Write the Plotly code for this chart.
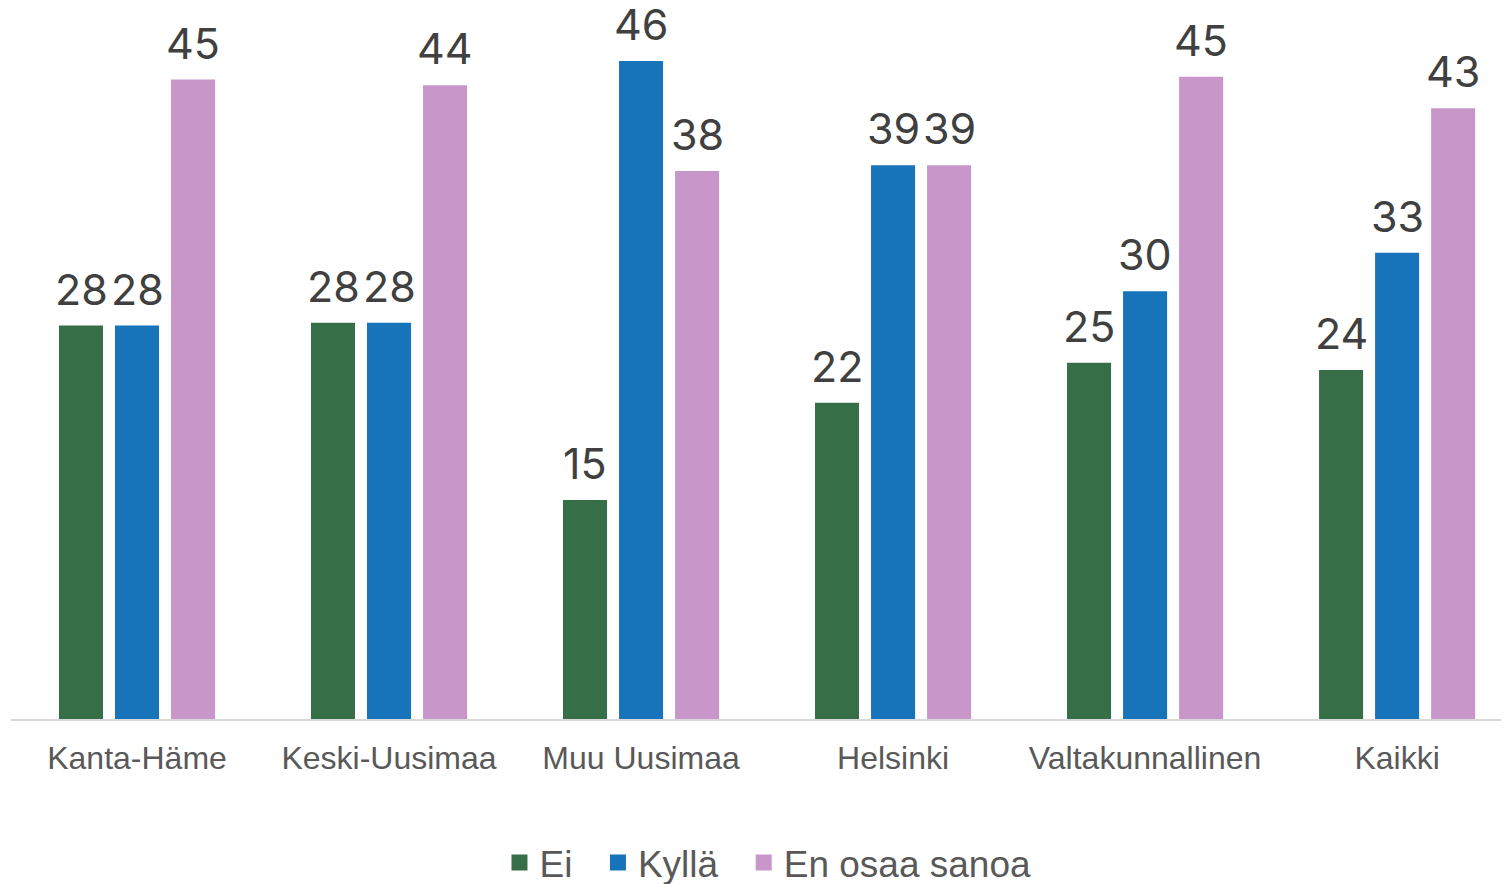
import plotly.graph_objects as go

# Data
categories = ["Kanta-Häme", "Keski-Uusimaa", "Muu Uusimaa", "Helsinki", "Valtakunnallinen", "Kaikki"]
ei = [27.5, 27.7, 15.3, 22.1, 24.9, 24.4]
kylla = [27.5, 27.7, 46.0, 38.7, 29.9, 32.6]
en_osaa = [44.7, 44.3, 38.3, 38.7, 44.9, 42.7]

series = [
    ("Ei", ei, "#366F47"),
    ("Kyllä", kylla, "#1874BA"),
    ("En osaa sanoa", en_osaa, "#C996C9"),
]

# bar geometry (px): one category is 252 px wide, each bar slot 56 px
slot_px = 56

fig = go.Figure()

for i, (name, values, color) in enumerate(series):
    fig.add_trace(go.Bar(
        x=categories,
        y=values,
        name=name,
        marker=dict(color=color, line=dict(width=0)),
        showlegend=False,
    ))
    # value labels sit a bit higher above the bars than plotly's own outside text
    for cat, v in zip(categories, values):
        fig.add_annotation(
            x=cat,
            y=v,
            text=str(int(v + 0.5)),
            showarrow=False,
            xshift=(i - 1) * slot_px,
            yanchor="bottom",
            yshift=9,
            font=dict(family="Inter, Lato, sans-serif", size=43, color="#404040"),
        )

# Legend entries with larger square swatches
for name, values, color in series:
    fig.add_trace(go.Scatter(
        x=[None],
        y=[None],
        mode="markers",
        name=name + "\u00a0\u00a0",
        marker=dict(symbol="square", size=18, color=color),
    ))

# page body has an 8px margin, so the figure is a bit smaller than the window
fig.update_layout(
    width=1501,
    height=876,
    margin=dict(l=3, r=0, t=0, b=165),
    plot_bgcolor="white",
    paper_bgcolor="white",
    barmode="group",
    bargap=0.333,
    bargroupgap=0.214,
    font=dict(family="Liberation Sans, Arial, sans-serif", color="#595959"),
    legend=dict(
        orientation="h",
        x=0.512,
        xanchor="center",
        yref="container",
        y=0.024,
        yanchor="middle",
        font=dict(size=37, color="#595959"),
        itemwidth=30,
        tracegroupgap=0,
    ),
)

fig.update_xaxes(
    range=[-0.5, 5.444],
    showline=True,
    linecolor="#D9D9D9",
    linewidth=2,
    ticks="",
    tickfont=dict(size=32, color="#595959"),
    ticklabelstandoff=10,
)

fig.update_yaxes(
    range=[0, 49.7],
    visible=False,
    showgrid=False,
    zeroline=False,
)

fig.write_html("out.html")
